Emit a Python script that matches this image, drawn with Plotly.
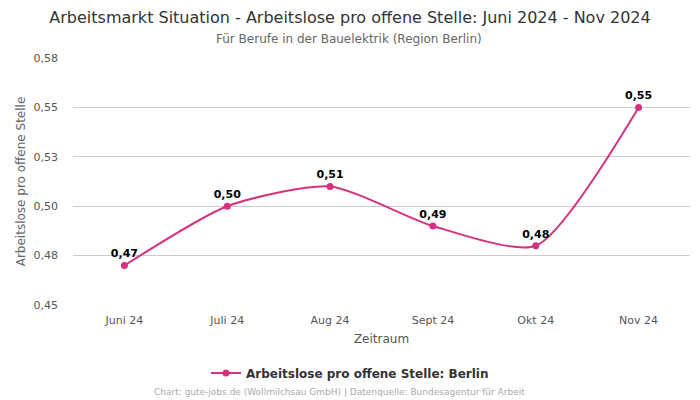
import plotly.graph_objects as go

categories = ["Juni 24", "Juli 24", "Aug 24", "Sept 24", "Okt 24", "Nov 24"]
values = [0.470, 0.500, 0.510, 0.490, 0.480, 0.550]
series_name = "Arbeitslose pro offene Stelle: Berlin"
y_tickvals = [0.45, 0.475, 0.50, 0.525, 0.55, 0.575]
y_ticktext = ["0,45", "0,48", "0,50", "0,53", "0,55", "0,58"]

color = "#d6317e"
font = "DejaVu Sans"

fig = go.Figure()
fig.add_trace(go.Scatter(
    x=categories, y=values, name=series_name,
    mode="lines+markers+text",
    line=dict(color=color, width=2, shape="spline", smoothing=0.65),
    marker=dict(color=color, size=7),
    text=[f"{v:.2f}".replace(".", ",") for v in values],
    textposition="top center",
    textfont=dict(family=font, size=11, color="#000000", weight="bold"),
    cliponaxis=False,
))

fig.update_layout(
    width=700, height=400,
    paper_bgcolor="white", plot_bgcolor="white",
    font=dict(family=font, color="#555555"),
    margin=dict(l=73, r=10, t=58, b=95),
    title=dict(
        text="Arbeitsmarkt Situation - Arbeitslose pro offene Stelle: Juni 2024 - Nov 2024",
        x=0.5, xanchor="center", xref="container", y=1 - 17 / 400, yanchor="middle", yref="container",
        font=dict(family=font, size=16, color="#333333"),
    ),
    xaxis=dict(
        range=[-0.5, 5.5], showgrid=False, zeroline=False, showline=False,
        ticks="", tickfont=dict(size=11, color="#555555"), ticklabelstandoff=7,
        title=dict(text="Zeitraum", font=dict(size=12, color="#555555"), standoff=8),
    ),
    yaxis=dict(
        range=[0.45, 0.575], tickvals=y_tickvals, ticktext=y_ticktext,
        showgrid=True, gridcolor="#cccccc", gridwidth=1, zeroline=False,
        showline=False, tickfont=dict(size=11, color="#555555"),
        ticklabelstandoff=14,
        title=dict(text="Arbeitslose pro offene Stelle", font=dict(size=12, color="#666666"), standoff=5),
    ),
    showlegend=True,
    legend=dict(orientation="h", x=(350 - 73) / 617, xanchor="center", y=-0.275, yanchor="middle",
                font=dict(size=12, color="#333333", weight="bold")),
    annotations=[
        dict(text="Für Berufe in der Bauelektrik (Region Berlin)",
             xref="paper", yref="paper", x=(349 - 73) / 617, y=(305 - 39) / 247,
             xanchor="center", yanchor="middle",
             showarrow=False, font=dict(size=12, color="#666666")),
        dict(text="Chart: gute-jobs.de (Wollmilchsau GmbH) | Datenquelle: Bundesagentur für Arbeit",
             xref="paper", yref="paper", x=(339.5 - 73) / 617, y=(305 - 392) / 247,
             xanchor="center", yanchor="middle",
             showarrow=False, font=dict(size=9, color="#aaaaaa")),
    ],
)

fig.write_html("out.html", config={"displayModeBar": False},
               post_script="document.body.style.margin='0';")
